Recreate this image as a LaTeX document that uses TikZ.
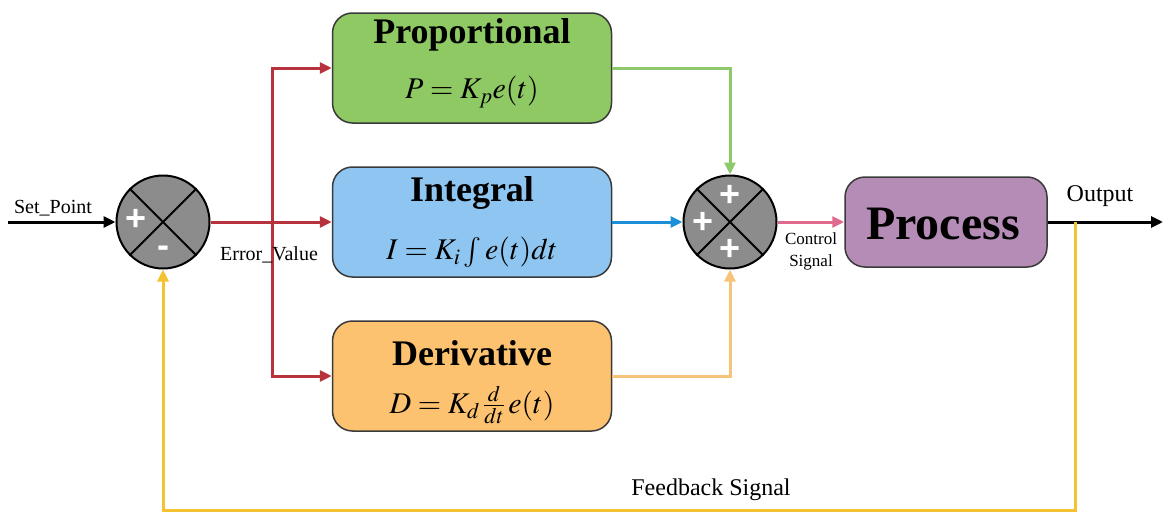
\documentclass[tikz,border=0pt]{standalone}
\usepackage{mathptmx}
\usepackage{fontspec}
\setmainfont{Liberation Serif}
\newfontfamily\signfont{Liberation Sans}
\usetikzlibrary{arrows.meta}

\definecolor{redline}{HTML}{B8323E}
\definecolor{greenline}{HTML}{8DC86A}
\definecolor{blueline}{HTML}{1B8FD8}
\definecolor{orangeline}{HTML}{F5C47A}
\definecolor{pinkline}{HTML}{E06A8E}
\definecolor{yellowline}{HTML}{F5C232}
\definecolor{propfill}{HTML}{8EC964}
\definecolor{intfill}{HTML}{8EC6F1}
\definecolor{derfill}{HTML}{FDC26F}
\definecolor{procfill}{HTML}{B48CB5}
\definecolor{circfill}{HTML}{8C8C8C}
\definecolor{boxborder}{HTML}{3A3A3A}

\tikzset{
  pidbox/.style={draw=boxborder, line width=1.5pt, rounded corners=20pt,
    minimum width=279pt, minimum height=110pt, inner sep=0pt},
  procbox/.style={draw=boxborder, line width=1.5pt, rounded corners=20pt,
    fill=procfill, minimum width=202pt, minimum height=90pt, inner sep=0pt},
  summer/.style={circle, draw=black, line width=2pt, fill=circfill,
    minimum size=93pt, inner sep=0pt},
  titletext/.style={font=\fontsize{36}{38}\selectfont\bfseries, inner sep=0pt},
  formtext/.style={font=\fontsize{30}{32}\selectfont, inner sep=0pt},
  labeltext/.style={font=\fontsize{20}{22}\selectfont, inner sep=0pt},
  signtext/.style={font=\signfont\fontsize{36}{36}\selectfont\bfseries,
    text=white, inner sep=0pt},
  wire/.style={line width=3pt, -{Triangle[length=12pt,width=11pt]}}
}

\begin{document}
\begin{tikzpicture}[x=1pt,y=-1pt]
\useasboundingbox (0,0) rectangle (1163,514);

% summing junctions
\node[summer] (S1) at (163,222) {};
\draw[line width=1.8pt] (S1.north west) -- (S1.south east)
                        (S1.north east) -- (S1.south west);
\node[signtext] (S1p) at (136,220) {+};
\node[signtext] (S1m) at (163,252) {-};

\node[summer] (S2) at (730,222) {};
\draw[line width=1.8pt] (S2.north west) -- (S2.south east)
                        (S2.north east) -- (S2.south west);
\node[signtext] (S2t) at (730,196) {+};
\node[signtext] (S2l) at (703,223) {+};
\node[signtext] (S2b) at (730,250) {+};

% controller terms
\node[pidbox, fill=propfill] (P) at (472,68) {};
\node[titletext] (Pt) at (472,35) {Proportional};
\node[formtext] (Pf) at (472,92) {$P = K_p e(t)$};

\node[pidbox, fill=intfill] (I) at (472,222) {};
\node[titletext] (It) at (472,193) {Integral};
\node[formtext] (If) at (472,252) {$I = K_i \int e(t)dt$};

\node[pidbox, fill=derfill] (D) at (472,376) {};
\node[titletext] (Dt) at (472,353) {Derivative};
\node[formtext] (Df) at (472,405) {$D = K_d\,\frac{d}{dt}\,e(t)$};

% plant
\node[procbox] (Pr) at (946,222) {};
\node[font=\fontsize{48}{50}\selectfont\bfseries, inner sep=0pt] (Prt) at (943,224) {Process};

% signal coordinates
\coordinate (sp) at (8,222);
\coordinate (br) at (272,222);
\coordinate (out) at (1163,222);
\coordinate (fb) at (1075,222);
\coordinate (fbc) at (1075,510);

% connectors
\draw[wire, black] (sp) -- (S1.west);
\draw[wire, redline] (S1.east) -- (I.west);
\draw[wire, redline] (br) |- (P.west);
\draw[wire, redline] (br) |- (D.west);
\draw[wire, greenline] (P.east) -| (S2.north);
\draw[wire, blueline] (I.east) -- (S2.west);
\draw[wire, orangeline] (D.east) -| (S2.south);
\draw[wire, pinkline] (S2.east) -- (Pr.west);
\draw[wire, black] (Pr.east) -- (out);
\draw[wire, yellowline] (fb) -- (fbc) -| (S1.south);

% labels
\node[labeltext] (lsp) at (53,208) {Set\_Point};
\node[labeltext] (lev) at (269,255) {Error\_Value};
\node[font=\fontsize{17}{22}\selectfont, align=center, inner sep=0pt] (lcs) at (811,251) {Control\\Signal};
\node[font=\fontsize{24}{26}\selectfont, inner sep=0pt] (lout) at (1100,196) {Output};
\node[font=\fontsize{24}{26}\selectfont, inner sep=0pt] (lfb) at (711,490) {Feedback Signal};
\end{tikzpicture}
\end{document}
